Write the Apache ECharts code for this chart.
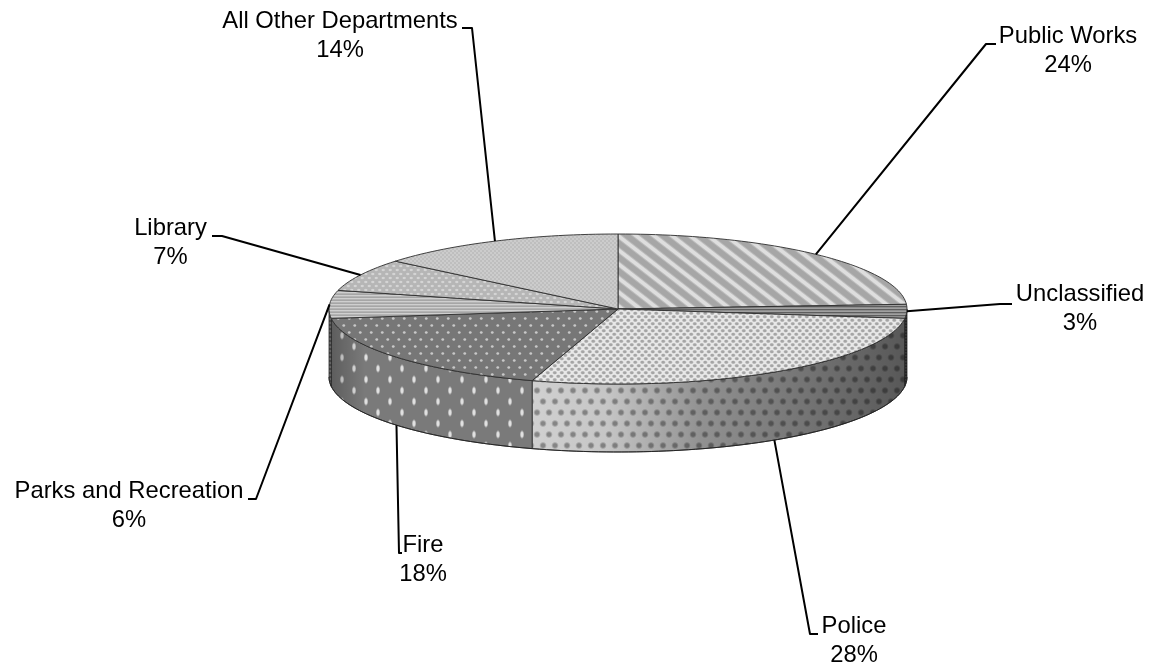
<!DOCTYPE html>
<html><head><meta charset="utf-8">
<style>html,body{margin:0;padding:0;background:#fff}#c{width:1154px;height:668px}</style>
<script src="https://cdn.jsdelivr.net/npm/echarts@6/dist/echarts.min.js"></script>
</head><body><div id="c"></div>
<script>
// data
const categories = ['Public Works','Unclassified','Police','Fire','Parks and Recreation','Library','All Other Departments'];
const shares = [24,3,27.8,18.2,6,7,14];
// layout
const CX=618, CY=309, RX=289, RY=75, DEPTH=68;
const labelCenters = [[1068,51],[1080,309],[854,641],[423,560],[129,506],[170.5,243],[340,36]];
const leaderElbows = [[[986,44],[996,44]],[[1000,304],[1012,304]],[[810,634],[818,634]],[[399,553],[402,553]],[[256,499],[248,499]],[[222,236],[212,236]],[[472,28],[462,28]]];

function tile(w,h,draw){const c=document.createElement('canvas');c.width=w;c.height=h;const g=c.getContext('2d');draw(g,w,h);return {image:c,repeat:'repeat'};}
function softDot(g,w,h,x,y,rx,ry,col){
  for(const dx of [-w,0,w])for(const dy of [-h,0,h]){
    g.save();g.translate(x+dx,y+dy);g.scale(rx,ry);
    const r=g.createRadialGradient(0,0,0,0,0,1);
    r.addColorStop(0,col);r.addColorStop(.45,col);r.addColorStop(1,col.replace(/[\d.]+\)$/,'0)'));
    g.fillStyle=r;g.beginPath();g.arc(0,0,1,0,7);g.fill();g.restore();
  }
}
function dots(w,h,bg,col,rx,ry){return tile(w,h,(g)=>{g.fillStyle=bg;g.fillRect(0,0,w,h);
  softDot(g,w,h,w/4,h/4,rx,ry,col);softDot(g,w,h,3*w/4,3*h/4,rx,ry,col);});}
function hstripes(colors,bandH){return tile(4,colors.length*bandH,(g,w)=>{colors.forEach((c,i)=>{g.fillStyle=c;g.fillRect(0,i*bandH,w,bandH);});});}
const diag = tile(36,28,(g,w,h)=>{g.fillStyle='#dedede';g.fillRect(0,0,w,h);
  for(const [col,lw] of [['#bcbcbc',7.5],['#a6a6a6',5.5]]){
    g.strokeStyle=col;g.lineWidth=lw;
    for(let k=-3;k<=3;k++){g.beginPath();g.moveTo(-36+k*18,-28);g.lineTo(72+k*18,56);g.stroke();}
  }});
const topFill = [
  diag,
  hstripes(['#5e5e5e','#8e8e8e','#a0a0a0'],1),
  dots(7,7,'#e8e8e8','rgba(165,165,165,1)',2.6,2.1),
  dots(11,14,'#777777','rgba(200,200,200,1)',2,1.7),
  hstripes(['#a6a6a6','#cfcfcf','#b4b4b4'],1),
  dots(7,8,'#b6b6b6','rgba(212,212,212,1)',2.2,1.7),
  dots(4,4,'#cccccc','rgba(175,175,175,1)',1.1,1)
];
const wallFill = [
  null,
  hstripes(['#666','#aaa','#888'],1),
  dots(12,22,'#d0d0d0','rgba(135,135,135,1)',3.8,3.8),
  dots(24,22,'#7a7a7a','rgba(225,225,225,1)',2.3,4.6),
  hstripes(['#666','#999'],2),
  null,null
];
function wallShade(i){
  if(i===1||i===2) return {type:'linear',x:532,y:0,x2:907,y2:0,global:true,colorStops:[
    {offset:0,color:'rgba(0,0,0,0)'},{offset:.2,color:'rgba(0,0,0,.05)'},{offset:.45,color:'rgba(0,0,0,.3)'},{offset:.8,color:'rgba(0,0,0,.48)'},{offset:1,color:'rgba(0,0,0,.58)'}]};
  if(i===3||i===4) return {type:'linear',x:329,y:0,x2:365,y2:0,global:true,colorStops:[
    {offset:0,color:'rgba(0,0,0,.25)'},{offset:1,color:'rgba(0,0,0,0)'}]};
  return 'rgba(0,0,0,0)';
}
const total = shares.reduce((a,b)=>a+b,0);
function pt(deg,drop){const t=deg*Math.PI/180;return [CX+RX*Math.sin(t),CY-RY*Math.cos(t)+(drop||0)];}
function arc(a,b,drop){const out=[];const n=Math.max(2,Math.ceil((b-a)/1.5));for(let k=0;k<=n;k++)out.push(pt(a+(b-a)*k/n,drop));return out;}
const rows = categories.map((name,i)=>{const start=shares.slice(0,i).reduce((a,b)=>a+b,0);return [i,start,shares[i]];});

const chart = echarts.init(document.getElementById('c'),null,{renderer:'canvas'});
chart.setOption({
  animation:false,
  series:[{
    type:'custom',coordinateSystem:'none',silent:true,
    data:rows,
    renderItem(params,api){
      const i=api.value(0), a=api.value(1)/total*360, b=a+api.value(2)/total*360, mid=(a+b)/2;
      const kids=[];
      const wa=Math.max(a,90), wb=Math.min(b,270);
      if(wb>wa){
        const poly=arc(wa,wb,0).concat(arc(wa,wb,DEPTH).reverse());
        kids.push({type:'polygon',z2:1,shape:{points:poly},style:{fill:wallFill[i]||'#888',stroke:'#2a2a2a',lineWidth:.8}});
        kids.push({type:'polygon',z2:2,shape:{points:poly},style:{fill:wallShade(i)}});
        kids.push({type:'polyline',z2:3,shape:{points:arc(wa,wb,DEPTH)},style:{fill:null,stroke:'#222',lineWidth:.9}});
      }
      const top=[[CX,CY]].concat(arc(a,b,0));
      kids.push({type:'polygon',z2:4,shape:{points:top},style:{fill:topFill[i],stroke:'#2e2e2e',lineWidth:.9,lineJoin:'round'}});
      const onWall=Math.cos(mid*Math.PI/180)<-0.3;
      const anchor=pt(mid,onWall?DEPTH:0);
      kids.push({type:'polyline',z2:6,shape:{points:[anchor].concat(leaderElbows[i])},style:{fill:null,stroke:'#000',lineWidth:2,lineJoin:'round'}});
      kids.push({type:'text',z2:7,style:{text:categories[i]+'\n'+Math.round(shares[i])+'%',x:labelCenters[i][0],y:labelCenters[i][1],align:'center',verticalAlign:'middle',fill:'#000',font:'23.8px "Liberation Sans"',lineHeight:28.5}});
      return {type:'group',children:kids};
    }
  }]
});
</script></body></html>
